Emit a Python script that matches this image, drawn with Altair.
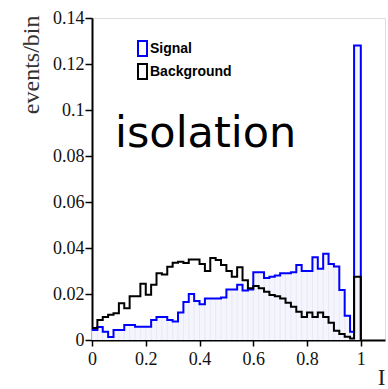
import altair as alt
import pandas as pd

# ---- data ----
bin_left = [round(i * 0.02, 2) for i in range(49)] + [0.975]
signal = [0.0043, 0.0056, 0.0036, 0.0013, 0.0043, 0.0043, 0.0065, 0.0065, 0.0058, 0.0058,
          0.0058, 0.0087, 0.010, 0.010, 0.0087, 0.008, 0.012, 0.0165, 0.020, 0.017,
          0.0155, 0.018, 0.018, 0.018, 0.0185, 0.022, 0.022, 0.024, 0.0215, 0.022,
          0.0295, 0.0295, 0.027, 0.0275, 0.028, 0.029, 0.029, 0.0295, 0.0326, 0.030,
          0.030, 0.036, 0.031, 0.0375, 0.033, 0.032, 0.0217, 0.0105, 0.0036, 0.128]
background = [0.0052, 0.0087, 0.010, 0.011, 0.0116, 0.016, 0.0138, 0.019, 0.019, 0.0245,
              0.0197, 0.024, 0.029, 0.0285, 0.0318, 0.0336, 0.034, 0.0335, 0.035, 0.035,
              0.033, 0.030, 0.0357, 0.0348, 0.0326, 0.030, 0.0275, 0.0316, 0.026, 0.0225,
              0.0235, 0.0225, 0.021, 0.0196, 0.019, 0.018, 0.0162, 0.0145, 0.0123, 0.010,
              0.012, 0.010, 0.012, 0.010, 0.0075, 0.004, 0.0026, 0.0014, 0.0007, 0.0275]
x_ticks = [round(i * 0.05, 2) for i in range(22)]
y_ticks = [round(i * 0.005, 3) for i in range(29)]
legend_labels = ["Signal", "Background"]
legend_colors = ["#0000ff", "#000000"]


def steps(vals, name):
    rows = [{"x": bin_left[i], "y": v, "i": i, "series": name} for i, v in enumerate(vals)]
    rows.append({"x": 1.0, "y": 0.0, "i": len(vals), "series": name})
    return rows


sig_df = pd.DataFrame(steps(signal, "Signal"))
bkg_df = pd.DataFrame(steps(background, "Background"))
stripe_df = pd.DataFrame({"x": bin_left, "y": signal})

XS = alt.Scale(domain=[0, 1.09], nice=False, zero=False)
YS = alt.Scale(domain=[0, 0.14], nice=False)

x_major = "abs(datum.value*5 - round(datum.value*5)) < 0.001"
y_major = "abs(datum.value*50 - round(datum.value*50)) < 0.001"

x_axis = alt.Axis(
    values=x_ticks, grid=False, title="I", titleFont="Liberation Serif", titleFontSize=23,
    titleFontWeight="normal", titleColor="#222222", titleX=293, titleY=44, titleAlign="right",
    titleBaseline="alphabetic", labelFont="Liberation Serif", labelFontSize=18, labelColor="#111111",
    labelExpr=f"{x_major} ? format(datum.value, '.1~f') : ''", labelOverlap=False,
    labelPadding=4, labelFlush=False,
    tickSize={"condition": {"test": x_major, "value": 6}, "value": 4},
    tickColor="black", tickWidth=1.5, domainColor="black", domainWidth=2,
)
y_axis = alt.Axis(
    values=y_ticks, grid=False, title="events/bin", titleFont="Liberation Serif", titleFontSize=24,
    titleFontWeight="normal", titleColor="#333333", titleAngle=270, titleX=-54, titleY=-3,
    titleAlign="right", titleBaseline="alphabetic",
    labelFont="Liberation Serif", labelFontSize=18, labelColor="#111111",
    labelExpr=f"{y_major} ? format(datum.value, '.2~f') : ''", labelOverlap=False,
    labelPadding=1, labelFlush=False,
    tickSize={"condition": {"test": y_major, "value": 7}, "value": 4},
    tickColor="black", tickWidth=1.5, domainColor="black", domainWidth=2,
)

fill = alt.Chart(sig_df).mark_area(interpolate="step-after", color="#f5f5fe").encode(
    x=alt.X("x:Q", scale=XS, axis=x_axis),
    y=alt.Y("y:Q", scale=YS, axis=y_axis),
    order="i:Q",
)
stripes = alt.Chart(stripe_df).mark_rule(color="#e8e8f8", strokeWidth=1).encode(
    x=alt.X("x:Q", scale=XS), y=alt.Y("y:Q", scale=YS), y2=alt.datum(0),
)
sig_line = alt.Chart(sig_df).mark_line(interpolate="step-after", color="#0000ff", strokeWidth=2).encode(
    x=alt.X("x:Q", scale=XS), y=alt.Y("y:Q", scale=YS), order="i:Q",
)
bkg_line = alt.Chart(bkg_df).mark_line(interpolate="step-after", color="#000000", strokeWidth=2).encode(
    x=alt.X("x:Q", scale=XS), y=alt.Y("y:Q", scale=YS), order="i:Q",
)

leg_df = pd.DataFrame({"label": legend_labels, "color": legend_colors})
leg_rects = []
leg_texts = []
for idx, (lab, col) in enumerate(zip(legend_labels, legend_colors)):
    y0 = 23 + idx * 23
    leg_rects.append(
        alt.Chart(leg_df.iloc[[idx]]).mark_rect(fill="white", stroke=col, strokeWidth=2).encode(
            x=alt.value(46), x2=alt.value(55), y=alt.value(y0), y2=alt.value(y0 + 15)
        )
    )
    leg_texts.append(
        alt.Chart(leg_df.iloc[[idx]]).mark_text(
            align="left", baseline="alphabetic", font="Liberation Sans", fontSize=14,
            fontWeight="bold", color="black"
        ).encode(x=alt.value(58), y=alt.value(y0 + 12), text="label:N")
    )

title_df = pd.DataFrame({"t": ["isolation"]})
iso = alt.Chart(title_df).mark_text(
    align="left", baseline="alphabetic", font="DejaVu Sans", fontSize=43, color="black"
).encode(x=alt.value(23), y=alt.value(129), text="t:N")

chart = alt.layer(fill, stripes, sig_line, bkg_line, *leg_rects, *leg_texts, iso).properties(
    width=293, height=322,
    autosize=alt.AutoSizeParams(type="none"),
    padding={"left": 92, "top": 18, "right": 3, "bottom": 49},
).configure_view(stroke="black", strokeWidth=2).configure(background="white")

chart.save("out.html", embed_options={"renderer": "svg", "actions": False})
